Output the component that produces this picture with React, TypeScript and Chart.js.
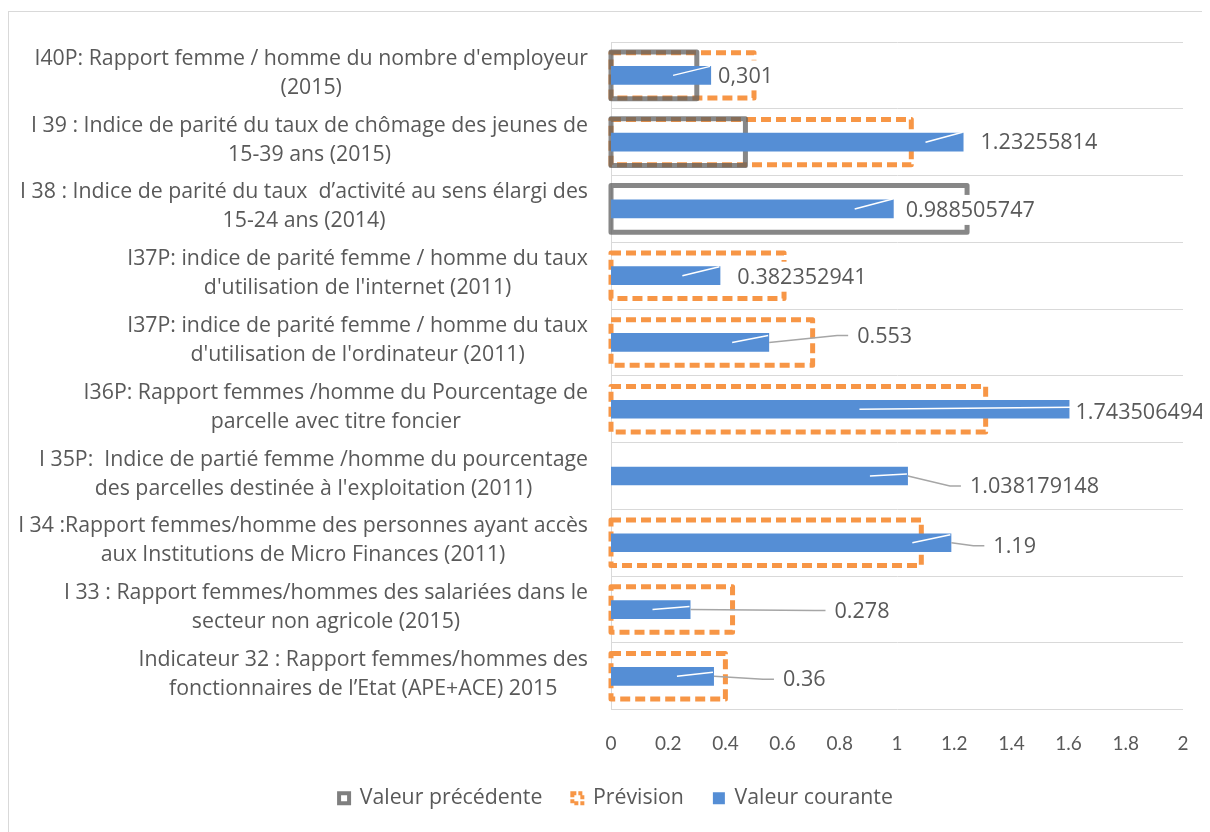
import React, { useEffect, useRef } from "react";
import { Chart, registerables } from "chart.js";

Chart.register(...registerables);

// ---------- DATA ----------
const categories: string[][] = [
  ["I40P: Rapport femme / homme du nombre d'employeur", "(2015)"],
  ["I 39 : Indice de parité du taux de chômage des jeunes de", "15-39 ans (2015)"],
  ["I 38 : Indice de parité du taux  d\u2019activité au sens élargi des", "15-24 ans (2014)"],
  ["I37P: indice de parité femme / homme du taux", "d'utilisation de l'internet (2011)"],
  ["I37P: indice de parité femme / homme du taux", "d'utilisation de l'ordinateur (2011)"],
  ["I36P: Rapport femmes /homme du Pourcentage de", "parcelle avec titre foncier"],
  ["I 35P:  Indice de partié femme /homme du pourcentage", "des parcelles destinée à l'exploitation (2011)"],
  ["I 34 :Rapport femmes/homme des personnes ayant accès", "aux Institutions de Micro Finances (2011)"],
  ["I 33 : Rapport femmes/hommes des salariées dans le", "secteur non agricole (2015)"],
  ["Indicateur 32 : Rapport femmes/hommes des", "fonctionnaires de l\u2019Etat (APE+ACE) 2015"],
];

const valeurPrecedente: (number | null)[] = [0.3, 0.47, 1.245, null, null, null, null, null, null, null];
const prevision: (number | null)[] = [0.5, 1.05, null, 0.605, 0.705, 1.31, null, 1.085, 0.425, 0.4];
const valeurCourante: number[] = [0.35, 1.2326, 0.9885, 0.3824, 0.553, 1.61, 1.0382, 1.19, 0.278, 0.36];
const valeurCouranteLabels: string[] = [
  "0,301", "1.23255814", "0.988505747", "0.382352941", "0.553",
  "1.743506494", "1.038179148", "1.19", "0.278", "0.36",
];
const xTickLabels: string[] = ["0", "0.2", "0.4", "0.6", "0.8", "1", "1.2", "1.4", "1.6", "1.8", "2"];
const seriesNames: string[] = ["Valeur précédente", "Prévision", "Valeur courante"];

// ---------- STYLE / LAYOUT ----------
const TEXT = "#595959";
const GRAY = "#7f7f7f";
const ORANGE = "#F79646";
const BLUE = "#558ED5";
const CAT_FONT = "21.3px 'Open Sans'";
const LABEL_FONT = "21.6px 'Open Sans'";

// per-row data label placement (pixel offsets relative to bar end / bar centre)
const labelLayout = [
  { dx: 7, dy: 0, inner: 38, innerDy: -9 },
  { dx: 17, dy: 0, inner: 38, innerDy: -10 },
  { dx: 12, dy: 1, inner: 39, innerDy: -10 },
  { dx: 17, dy: 1, inner: 38, innerDy: -9 },
  { dx: 88, dy: -7, inner: 37, innerDy: -7 },
  { dx: 4, dy: 3, inner: 212, innerDy: -2 },
  { dx: 62, dy: 10, inner: 38, innerDy: -2 },
  { dx: 42, dy: 3, inner: 39, innerDy: -8 },
  { dx: 144, dy: 1, inner: 38, innerDy: -3 },
  { dx: 69, dy: 3, inner: 37, innerDy: -4 },
];

const LEFT_PAD = 40;

const outlinePlugin = {
  id: "outlines",
  beforeDatasetsDraw(chart: any) {
    const ctx = chart.ctx;
    ctx.save();
    // Prévision: dashed orange
    const m1 = chart.getDatasetMeta(1);
    m1.data.forEach((el: any, i: number) => {
      if (prevision[i] == null) return;
      const p = el.getProps(["x", "y", "base", "height"], true);
      ctx.strokeStyle = ORANGE;
      ctx.lineWidth = 5;
      ctx.setLineDash([10, 5]);
      ctx.lineJoin = "round";
      ctx.strokeRect(p.base, p.y - p.height / 2, p.x - p.base, p.height);
    });
    // Valeur précédente: solid gray
    const m0 = chart.getDatasetMeta(0);
    m0.data.forEach((el: any, i: number) => {
      if (valeurPrecedente[i] == null) return;
      const p = el.getProps(["x", "y", "base", "height"], true);
      ctx.strokeStyle = "rgba(95,95,95,0.75)";
      ctx.lineWidth = 5;
      ctx.setLineDash([]);
      ctx.lineJoin = "round";
      ctx.strokeRect(p.base, p.y - p.height / 2, p.x - p.base, p.height);
    });
    ctx.restore();
  },
  afterDatasetsDraw(chart: any) {
    const ctx = chart.ctx;
    ctx.save();
    const meta = chart.getDatasetMeta(2);
    ctx.font = LABEL_FONT;
    ctx.textBaseline = "middle";
    ctx.textAlign = "left";
    meta.data.forEach((el: any, i: number) => {
      const p = el.getProps(["x", "y"], true);
      const L = labelLayout[i];
      const lx = p.x + L.dx;
      const ly = p.y + L.dy;
      // inner (white) leader segment
      ctx.strokeStyle = "#ffffff";
      ctx.lineWidth = 1.5;
      ctx.setLineDash([]);
      ctx.beginPath();
      ctx.moveTo(p.x - L.inner, p.y);
      ctx.lineTo(p.x - 1, p.y + L.innerDy);
      ctx.stroke();
      // outer gray leader line
      if (L.dx > 30) {
        ctx.strokeStyle = "#a6a6a6";
        ctx.beginPath();
        ctx.moveTo(p.x, p.y);
        ctx.lineTo(lx - 20, ly);
        ctx.lineTo(lx - 9, ly);
        ctx.stroke();
      }
      const text = valeurCouranteLabels[i];
      const w = ctx.measureText(text).width;
      ctx.fillStyle = "#ffffff";
      ctx.fillRect(lx - 6, ly - 15, w + 12, 30);
      ctx.fillStyle = TEXT;
      ctx.fillText(text, lx, ly + 1);
    });
    ctx.restore();
  },
  afterDraw(chart: any) {
    const ctx = chart.ctx;
    const ys = chart.scales.y;
    ctx.save();
    ctx.font = CAT_FONT;
    ctx.fillStyle = TEXT;
    ctx.textAlign = "center";
    ctx.textBaseline = "middle";
    const lineH = 29;
    categories.forEach((lines, i) => {
      const cy = ys.getPixelForValue(i) - 2;
      const maxW = Math.max(...lines.map((l) => ctx.measureText(l).width));
      const cx = chart.chartArea.left - 23 - maxW / 2;
      const y0 = cy - ((lines.length - 1) * lineH) / 2;
      lines.forEach((l, k) => ctx.fillText(l, cx, y0 + k * lineH));
    });
    ctx.restore();
  },
};

export default function App() {
  const ref = useRef<HTMLCanvasElement | null>(null);
  useEffect(() => {
    document.body.style.overflow = "hidden";
    if (!ref.current) return;
    const chart = new Chart(ref.current, {
      type: "bar",
      data: {
        labels: categories,
        datasets: [
          {
            label: seriesNames[0],
            data: valeurPrecedente,
            backgroundColor: "rgba(0,0,0,0)",
            borderWidth: 0,
            grouped: false,
            categoryPercentage: 1,
            barPercentage: 0.7,
          } as any,
          {
            label: seriesNames[1],
            data: prevision,
            backgroundColor: "rgba(0,0,0,0)",
            borderWidth: 0,
            grouped: false,
            categoryPercentage: 1,
            barPercentage: 0.68,
          } as any,
          {
            label: seriesNames[2],
            data: valeurCourante,
            backgroundColor: BLUE,
            borderWidth: 0,
            grouped: false,
            categoryPercentage: 1,
            barPercentage: 0.28,
          } as any,
        ],
      },
      options: {
        indexAxis: "y",
        animation: false,
        responsive: false,
        layout: { padding: { top: 30, right: 27, bottom: 13, left: LEFT_PAD } },
        scales: {
          x: {
            min: 0,
            max: 2,
            ticks: {
              stepSize: 0.2,
              color: TEXT,
              font: { family: "Lato", size: 19 },
              padding: 15,
              callback: (_v: any, idx: number) => xTickLabels[idx],
            },
            grid: { display: false },
            border: { display: false },
            afterFit: (s: any) => {
              s.height = 48;
            },
          },
          y: {
            ticks: { display: false },
            grid: { offset: true, color: "#d9d9d9", drawTicks: false, lineWidth: 1 },
            border: { display: true, color: "#d9d9d9" },
            afterFit: (s: any) => {
              s.width = 602 - LEFT_PAD;
            },
          },
        },
        plugins: {
          tooltip: { enabled: false },
          legend: {
            position: "bottom",
            labels: {
              color: TEXT,
              font: { family: "Open Sans", size: 21.3 },
              boxWidth: 10,
              boxHeight: 10,
              padding: 30,
              generateLabels: () => [
                { text: seriesNames[0], fillStyle: "#ffffff", strokeStyle: GRAY, lineWidth: 4, datasetIndex: 0, fontColor: TEXT } as any,
                { text: seriesNames[1], fillStyle: "#ffffff", strokeStyle: ORANGE, lineWidth: 4, lineDash: [4, 2], datasetIndex: 1, fontColor: TEXT } as any,
                { text: seriesNames[2], fillStyle: BLUE, strokeStyle: BLUE, lineWidth: 2, datasetIndex: 2, fontColor: TEXT } as any,
              ],
            },
          },
        },
      },
      plugins: [outlinePlugin],
    });
    return () => chart.destroy();
  }, []);
  return (
    <div
      style={{
        marginTop: 3,
        borderLeft: "1px solid #d9d9d9",
        borderTop: "1px solid #d9d9d9",
        width: 1201,
        height: 820,
        background: "#fff",
      }}
    >
      <canvas ref={ref} width={1201} height={820} style={{ display: "block" }} />
    </div>
  );
}
